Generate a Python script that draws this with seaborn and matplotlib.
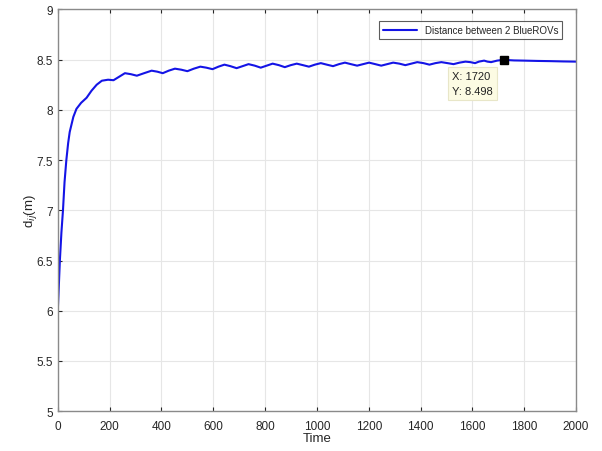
import matplotlib
matplotlib.use("Agg")
import matplotlib.pyplot as plt
import seaborn as sns
import pandas as pd

time = [0, 4, 8, 14, 20, 26, 33, 40, 46, 60, 72, 90, 111, 130, 150, 170, 194,
        215, 237, 259, 282, 305, 333, 362, 384, 405, 428, 452, 476, 500, 525,
        550, 573, 597, 620, 643, 666, 690, 713, 736, 760, 783, 806, 829, 853,
        876, 899, 922, 946, 969, 992, 1015, 1038, 1062, 1085, 1108, 1131, 1155,
        1178, 1201, 1225, 1248, 1271, 1294, 1318, 1341, 1364, 1387, 1411, 1434,
        1457, 1480, 1504, 1527, 1550, 1573, 1592, 1610, 1625, 1645, 1658, 1672,
        1695, 1720, 1760, 1800, 1850, 1900, 1950, 2000]
distance = [6.00, 6.25, 6.50, 6.78, 7.00, 7.28, 7.50, 7.67, 7.78, 7.93, 8.01,
            8.07, 8.12, 8.19, 8.25, 8.29, 8.30,
            8.295, 8.33, 8.365, 8.355, 8.34, 8.365, 8.39, 8.38, 8.365, 8.39,
            8.41, 8.40, 8.385, 8.41, 8.43, 8.42, 8.405, 8.43, 8.45, 8.435,
            8.415, 8.435, 8.455, 8.44, 8.42, 8.44, 8.46, 8.445, 8.425, 8.445,
            8.46, 8.445, 8.43, 8.45, 8.465, 8.45, 8.435, 8.455, 8.47, 8.455,
            8.44, 8.455, 8.47, 8.455, 8.44, 8.455, 8.47, 8.46, 8.445, 8.46,
            8.475, 8.465, 8.45, 8.465, 8.475, 8.465, 8.455, 8.47, 8.48, 8.475,
            8.465, 8.48, 8.49, 8.48, 8.475, 8.49, 8.498, 8.492, 8.49, 8.487,
            8.485, 8.482, 8.48]
tip_x = 1720
tip_y = 8.498
series_label = "Distance between 2 BlueROVs"
x_ticks = [0, 200, 400, 600, 800, 1000, 1200, 1400, 1600, 1800, 2000]
y_ticks = [5, 5.5, 6, 6.5, 7, 7.5, 8, 8.5, 9]
y_tick_labels = ["5", "5.5", "6", "6.5", "7", "7.5", "8", "8.5", "9"]

sns.set_style("white")
plt.rcParams['font.family'] = ['Liberation Sans', 'DejaVu Sans']

df = pd.DataFrame({"Time": time, "d": distance})

fig = plt.figure(figsize=(6.02, 4.52), dpi=100)
ax = fig.add_axes([0.096, 0.088, 0.861, 0.889])

sns.lineplot(data=df, x="Time", y="d", ax=ax, color="#1414e6", linewidth=1.5,
             label=series_label)

ax.set_xlim(0, 2000)
ax.set_ylim(5, 9)
ax.set_xticks(x_ticks)
ax.set_xticklabels([str(t) for t in x_ticks])
ax.set_yticks(y_ticks)
ax.set_yticklabels(y_tick_labels)
ax.grid(True, color="#e6e6e6", linewidth=0.8)
ax.tick_params(direction="in", length=3, labelsize=8.5, colors="#262626",
               top=True, right=False, bottom=True, left=True)
ax.tick_params(axis="x", pad=6)
for s in ax.spines.values():
    s.set_color("#8a8a8a")
    s.set_linewidth(1.0)

ax.set_xlabel("Time", fontsize=9.5, labelpad=0)
ax.set_ylabel(r"d$_{ij}$(m)", fontsize=9.5, labelpad=-2)

leg = ax.legend(loc="upper right", fontsize=7, frameon=True, fancybox=False,
                handlelength=3.5, borderpad=0.4, bbox_to_anchor=(0.983, 0.982))
leg.get_frame().set_edgecolor("#333333")
leg.get_frame().set_linewidth(0.8)

ax.plot([tip_x], [tip_y], marker="s", color="black", markersize=6, zorder=5)
ax.annotate(f"X: {tip_x}\nY: {tip_y}", xy=(tip_x, tip_y),
            xytext=(-37, -8), textcoords="offset points", ha="left", va="top",
            fontsize=8, color="#222222", linespacing=1.6,
            bbox=dict(boxstyle="square,pad=0.35", fc="#fcfbe3", ec="#e8e6c8",
                      lw=0.8))

fig.savefig("out.png", dpi=100)
